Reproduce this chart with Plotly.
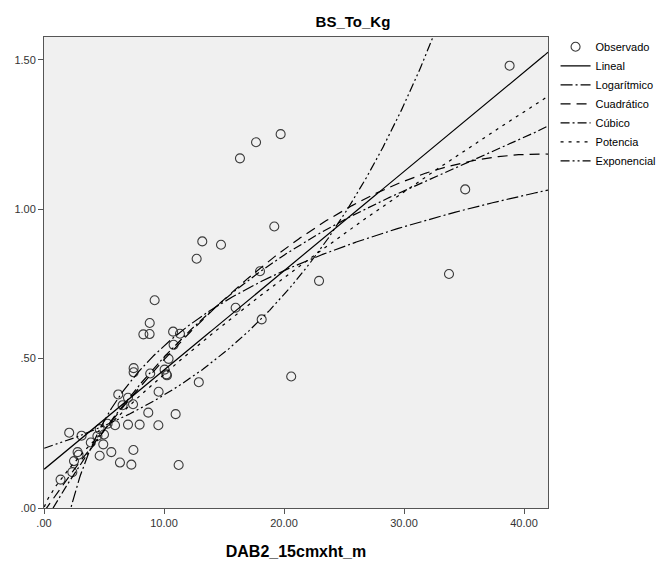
import numpy as np
import plotly.graph_objects as go

dab2 = [38.8, 35.1, 33.75, 19.72, 17.67, 16.33, 19.19, 13.19, 14.75, 12.72,
        18.0, 22.92, 15.97, 18.14, 20.6, 12.9, 9.55, 11.22, 10.97, 9.22,
        8.81, 8.28, 8.8, 10.76, 11.33, 10.8, 10.38, 7.47, 7.47, 8.85,
        10.05, 10.2, 10.25, 6.19, 7.0, 7.42, 6.55, 8.69, 7.0, 7.97,
        9.53, 5.92, 5.3, 4.64, 2.1, 3.13, 4.45, 5.0, 3.9, 4.94,
        5.61, 7.45, 2.8, 2.88, 4.64, 6.33, 7.28, 2.5, 2.36, 1.38]
bs_kg = [1.48, 1.066, 0.783, 1.251, 1.224, 1.17, 0.942, 0.892, 0.881, 0.834,
         0.792, 0.76, 0.67, 0.631, 0.44, 0.421, 0.389, 0.144, 0.314, 0.695,
         0.619, 0.581, 0.582, 0.59, 0.583, 0.546, 0.499, 0.468, 0.454, 0.45,
         0.463, 0.447, 0.444, 0.38, 0.369, 0.347, 0.344, 0.319, 0.279, 0.279,
         0.277, 0.277, 0.282, 0.264, 0.252, 0.242, 0.241, 0.246, 0.219, 0.213,
         0.187, 0.194, 0.187, 0.178, 0.175, 0.152, 0.145, 0.157, 0.12, 0.095]

x_tickvals = [0, 10, 20, 30, 40]
x_ticktext = [".00", "10.00", "20.00", "30.00", "40.00"]
y_tickvals = [0, 0.5, 1.0, 1.5]
y_ticktext = [".00", ".50", "1.00", "1.50"]

x = np.array(dab2)
y = np.array(bs_kg)
xs = np.linspace(0.02, 42, 600)

# Curve estimation fits (as SPSS does)
lin = np.polyfit(x, y, 1)
y_lin = np.polyval(lin, xs)
logc = np.polyfit(np.log(x), y, 1)
y_log = np.polyval(logc, np.log(xs))
quad = np.polyfit(x, y, 2)
y_quad = np.polyval(quad, xs)
cub = np.polyfit(x, y, 3)
y_cub = np.polyval(cub, xs)
powc = np.polyfit(np.log(x), np.log(y), 1)
y_pow = np.exp(powc[1]) * xs ** powc[0]
expc = np.polyfit(x, np.log(y), 1)
y_exp = np.exp(expc[1]) * np.exp(expc[0] * xs)

FONT = "Liberation Sans, Arial, sans-serif"

fig = go.Figure()
fig.add_trace(go.Scatter(x=dab2, y=bs_kg, mode="markers", name="Observado",
                         marker=dict(symbol="circle-open", size=9,
                                     color="#3a3a3a", line=dict(width=1.1))))
styles = [
    ("Lineal", y_lin, "solid"),
    ("Logarítmico", y_log, "12px,3px,2px,3px"),
    ("Cuadrático", y_quad, "10px,6px"),
    ("Cúbico", y_cub, "9px,3px,2px,3px"),
    ("Potencia", y_pow, "3px,5px"),
    ("Exponencial", y_exp, "9px,3px,2px,3px,2px,3px"),
]
for name, yy, dash in styles:
    fig.add_trace(go.Scatter(x=xs, y=yy, mode="lines", name=name,
                             line=dict(color="black", width=1.2, dash=dash)))

axis_common = dict(showline=True, linecolor="#555555", linewidth=1,
                   mirror=True, ticks="outside", ticklen=5, tickcolor="#555555",
                   showgrid=False, zeroline=False, automargin=False,
                   tickfont=dict(family=FONT, size=11, color="#333333"))
fig.update_xaxes(range=[0, 42], tickvals=x_tickvals, ticktext=x_ticktext,
                 title=dict(text="<b>DAB2_15cmxht_m</b>", standoff=17,
                            font=dict(family=FONT, size=16, color="black")),
                 **axis_common)
fig.update_yaxes(range=[0, 1.576], tickvals=y_tickvals, ticktext=y_ticktext,
                 **axis_common)

fig.update_layout(
    width=656, height=564,
    margin=dict(l=44, r=108, t=37, b=56, autoexpand=False),
    paper_bgcolor="white", plot_bgcolor="#f0f0f0",
    title=dict(text="<b>BS_To_Kg</b>", x=0.613, xref="paper", y=1 - 22 / 564,
               yref="container", yanchor="middle", xanchor="center",
               font=dict(family=FONT, size=15, color="black")),
    legend=dict(x=1.015, y=1.01, xanchor="left", yanchor="top",
                font=dict(family=FONT, size=11, color="black"),
                bgcolor="rgba(0,0,0,0)", itemwidth=30, tracegroupgap=0),
    showlegend=True,
)

fig.write_html("out.html", config={"displayModeBar": False},
               post_script="document.body.style.margin='0';document.body.style.overflow='hidden';")
